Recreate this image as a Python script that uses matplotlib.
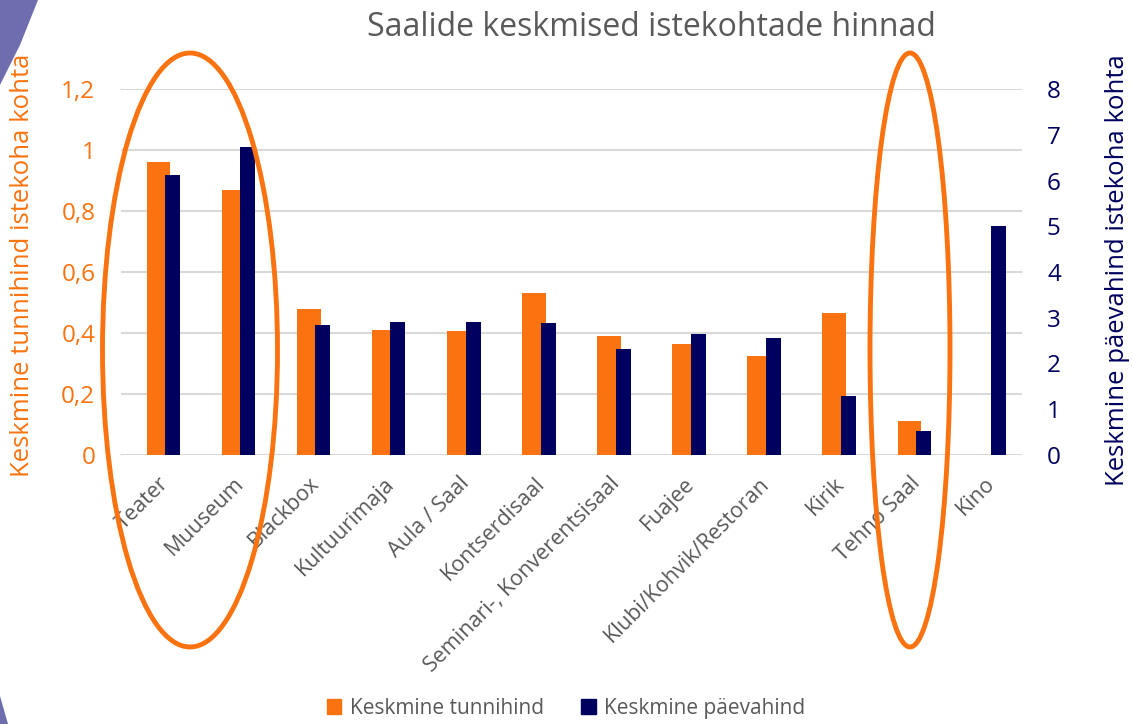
import numpy as np
import matplotlib.pyplot as plt
from matplotlib.patches import Ellipse, Polygon, Patch

plt.rcParams['font.family'] = ['Open Sans', 'DejaVu Sans']

categories = ['Teater', 'Muuseum', 'Blackbox', 'Kultuurimaja', 'Aula / Saal',
              'Kontserdisaal', 'Seminari-, Konverentsisaal', 'Fuajee',
              'Klubi/Kohvik/Restoran', 'Kirik', 'Tehno Saal', 'Kino']
tunnihind = [0.96, 0.87, 0.48, 0.41, 0.405, 0.53, 0.39, 0.365, 0.325, 0.465, 0.11, 0.0]
paevahind = [6.12, 6.73, 2.84, 2.91, 2.90, 2.88, 2.31, 2.64, 2.56, 1.29, 0.53, 5.0]
left_ticks = [0, 0.2, 0.4, 0.6, 0.8, 1.0, 1.2]
left_labels = ['0', '0,2', '0,4', '0,6', '0,8', '1', '1,2']
right_ticks = [0, 1, 2, 3, 4, 5, 6, 7, 8]

orange = '#FA7310'
navy = '#00005E'
gray = '#595959'

fig = plt.figure(figsize=(11.32, 7.24), dpi=100)
ax = fig.add_axes([121/1132, 1-455/724, 901/1132, 366/724])
ax2 = ax.twinx()

x = np.arange(len(categories))
ax.bar(x, tunnihind, width=0.315, color=orange, zorder=2)
ax2.bar(x + 0.189, paevahind, width=0.2, color=navy, zorder=2)

ax.set_xlim(-0.5, len(categories) - 0.5)
ax.set_ylim(0, 1.2)
ax2.set_ylim(0, 8)
ax.set_yticks(left_ticks)
ax.set_yticklabels(left_labels)
ax2.set_yticks(right_ticks)
ax.grid(axis='y', color='#D9D9D9', linewidth=1.5, zorder=0)
ax.set_axisbelow(True)
for a in (ax, ax2):
    for s in a.spines.values():
        s.set_visible(False)
ax.tick_params(axis='y', length=0, pad=18.5, labelsize=17.5, labelcolor=orange)
ax2.tick_params(axis='y', length=0, pad=18, labelsize=17.5, labelcolor=navy)
ax.set_xticks(x)
ax.set_xticklabels(categories, rotation=45, ha='right', va='top',
                   rotation_mode='anchor', fontsize=15.5, color=gray)
ax.tick_params(axis='x', length=0, pad=13)

fig.text(651/1132, 1-27/724, 'Saalide keskmised istekohtade hinnad', ha='center',
         va='center', fontsize=23, color=gray)
fig.text(23/1132, 1-265/724, 'Keskmine tunnihind istekoha kohta', rotation=90,
         ha='center', va='center', fontsize=18.5, color=orange)
fig.text(1117/1132, 1-270/724, 'Keskmine päevahind istekoha kohta', rotation=90,
         ha='center', va='center', fontsize=18.5, color=navy)

handles = [Patch(color=orange, label='Keskmine tunnihind'),
           Patch(color=navy, label='Keskmine päevahind')]
leg = fig.legend(handles=handles, loc='lower center', bbox_to_anchor=(0.5, -0.019),
                 ncol=2, frameon=False, fontsize=15, handlelength=0.7,
                 handleheight=0.7, handletextpad=0.4, columnspacing=1.8)
for t in leg.get_texts():
    t.set_color(gray)

# highlight ellipses
for cx, w in [(190, 175), (910, 80)]:
    fig.patches.append(Ellipse((cx/1132, 1-350/724), w/1132, 594/724,
                               transform=fig.transFigure, fill=False,
                               edgecolor=orange, linewidth=3.5, zorder=5))

# slide background swoosh
fig.patches.append(Polygon([(0, 1), (38/1132, 1), (20/1132, 1-45/724), (0, 1-85/724)],
                           closed=True, transform=fig.transFigure,
                           facecolor='#6E6EAE', edgecolor='none', zorder=-1))
fig.patches.append(Polygon([(0, 0), (8/1132, 0), (0, 28/724)],
                           closed=True, transform=fig.transFigure,
                           facecolor='#6E6EAE', edgecolor='none', zorder=-1))

fig.savefig('out.png', dpi=100)
